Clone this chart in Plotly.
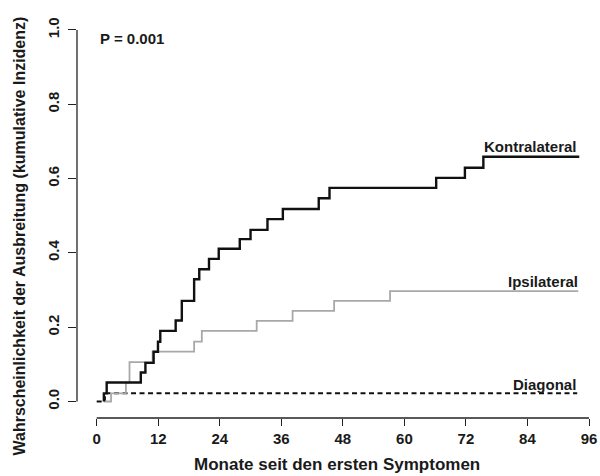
import plotly.graph_objects as go

# ---- data ----
kontra_t = [1.4, 1.4, 1.95, 8.6, 9.5, 11.1, 11.95, 12.4, 15.4, 16.6, 19.0, 20.0, 21.9, 23.8, 27.9, 30.0, 33.3, 36.3, 43.3, 45.4, 66.2, 71.8, 75.4, 94.1]
kontra_v = [0.0, 0.022, 0.051, 0.078, 0.104, 0.134, 0.161, 0.19, 0.218, 0.271, 0.329, 0.356, 0.384, 0.411, 0.437, 0.462, 0.491, 0.518, 0.547, 0.575, 0.602, 0.629, 0.659, 0.659]

ipsi_t = [1.4, 2.8, 5.7, 6.4, 10.9, 19.0, 20.5, 31.2, 38.2, 46.3, 57.2, 93.9]
ipsi_v = [0.0, 0.022, 0.051, 0.106, 0.134, 0.161, 0.19, 0.217, 0.244, 0.271, 0.297, 0.297]

diag_t = [0.0, 1.6, 93.7]
diag_v = [0.0, 0.022, 0.022]

x_ticks = [0, 12, 24, 36, 48, 60, 72, 84, 96]
y_ticks = [0.0, 0.2, 0.4, 0.6, 0.8, 1.0]

labels = ["Kontralateral", "Ipsilateral", "Diagonal"]
label_x = [94.1, 94.25, 93.9]
label_y = [0.686, 0.3225, 0.047]

p_text = "P = 0.001"

FONT = "Liberation Sans, Arial, Helvetica, sans-serif"

fig = go.Figure()
fig.add_trace(go.Scatter(x=diag_t, y=diag_v, mode="lines", line_shape="hv",
                         line=dict(color="#111111", width=2, dash="5px,3.5px"),
                         showlegend=False, hoverinfo="skip"))
fig.add_trace(go.Scatter(x=ipsi_t, y=ipsi_v, mode="lines", line_shape="hv",
                         line=dict(color="#a8a8a8", width=1.8),
                         showlegend=False, hoverinfo="skip"))
fig.add_trace(go.Scatter(x=kontra_t, y=kontra_v, mode="lines", line_shape="hv",
                         line=dict(color="#111111", width=2.4),
                         showlegend=False, hoverinfo="skip"))

for t, lx, ly in zip(labels, label_x, label_y):
    fig.add_annotation(x=lx, y=ly, text=t, showarrow=False, xanchor="right", yanchor="middle",
                       font=dict(family=FONT, size=15, color="#1a1a1a", weight="bold"))

fig.add_annotation(x=0.2, y=0.978, text=p_text, showarrow=False, xanchor="left", yanchor="middle",
                   font=dict(family=FONT, size=15, color="#1a1a1a", weight="bold"))

# axis titles
fig.add_annotation(xref="paper", yref="paper", x=0.502, y=-0.1156, text="Monate seit den ersten Symptomen",
                   showarrow=False, xanchor="center", yanchor="middle",
                   font=dict(family=FONT, size=17, color="#1a1a1a", weight="bold"))
fig.add_annotation(xref="paper", yref="paper", x=-0.1112, y=0.457, textangle=-90,
                   text="Wahrscheinlichkeit der Ausbreitung (kumulative Inzidenz)",
                   showarrow=False, xanchor="center", yanchor="middle",
                   font=dict(family=FONT, size=16, color="#1a1a1a", weight="bold"))

# detached R-style axis lines
fig.add_shape(type="line", xref="x", yref="paper", x0=x_ticks[0], x1=x_ticks[-1], y0=0, y1=0,
              line=dict(color="#222222", width=1.3))
fig.add_shape(type="line", xref="paper", yref="y", x0=0, x1=0, y0=y_ticks[0], y1=y_ticks[-1],
              line=dict(color="#222222", width=1.3))

fig.update_xaxes(range=[-3.84, 97.17], tickvals=x_ticks, ticktext=[str(v) for v in x_ticks],
                 showgrid=False, zeroline=False, showline=False, ticklabeloverflow="allow",
                 ticks="outside", ticklen=7, tickwidth=1.3, tickcolor="#222222",
                 tickfont=dict(family=FONT, size=15, color="#1a1a1a", weight="bold"))
fig.update_yaxes(range=[-0.0444, 1.0269], tickvals=y_ticks, ticktext=[f"{v:.1f}" for v in y_ticks],
                 tickangle=-90, ticklabelstandoff=3,
                 showgrid=False, zeroline=False, showline=False,
                 ticks="outside", ticklen=8, tickwidth=1.3, tickcolor="#222222",
                 tickfont=dict(family=FONT, size=15, color="#1a1a1a", weight="bold"))

fig.update_layout(width=600, height=476, margin=dict(l=77, r=5, t=20, b=58, autoexpand=False),
                  plot_bgcolor="white", paper_bgcolor="white", autosize=False)

fig.write_html("out.html", config={"displayModeBar": False},
               post_script="document.body.style.margin='0';document.body.style.overflow='hidden';")
